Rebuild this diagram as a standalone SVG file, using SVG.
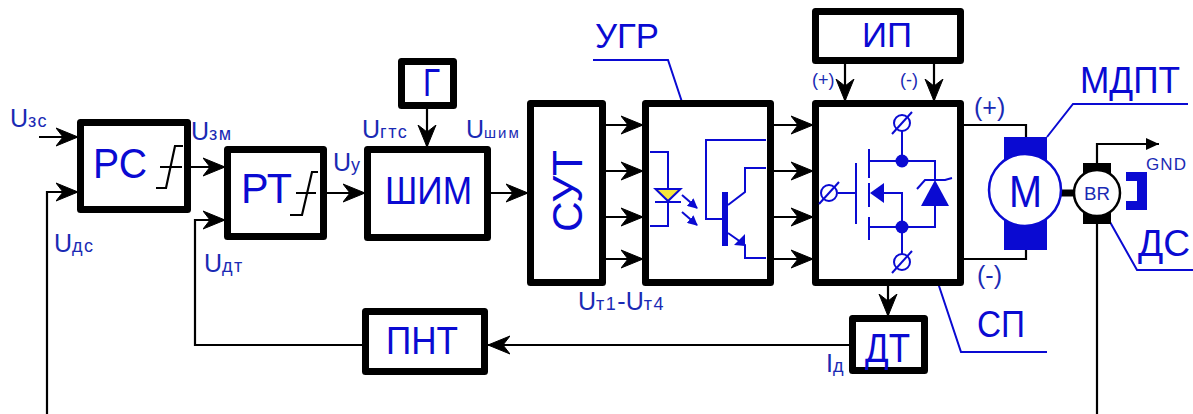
<svg xmlns="http://www.w3.org/2000/svg" width="1193" height="414" viewBox="0 0 1193 414">
<style>
text{font-family:"Liberation Sans",Arial,sans-serif}
.b{fill:#fff;stroke:#000;stroke-width:7;stroke-linejoin:round}
.c{fill:none;stroke:#000;stroke-width:2.200}
.a{marker-end:url(#ah)}
.t{fill:#0a0ad2;font-size:38px}
.s{fill:#1a2ab4;font-size:25px}
.s tspan{font-size:18px;letter-spacing:1.500px}
.p{fill:#1a2ab4}
.l{fill:none;stroke:#0a0ad2;stroke-width:2}
.e{fill:#0a0ad2;stroke:none}
.k{fill:none;stroke:#000;stroke-width:2.200}
</style>
<defs>
<marker id="ah" markerUnits="userSpaceOnUse" markerWidth="23" markerHeight="20" viewBox="0 0 23 20" refX="22" refY="10" orient="auto">
<path d="M0,1 L22,10 L0,19 L7,10 Z" fill="#000" stroke="#000" stroke-width="1"/>
</marker>
<marker id="ab" markerUnits="userSpaceOnUse" markerWidth="10" markerHeight="10" viewBox="0 0 10 10" refX="9" refY="5" orient="auto">
<path d="M0,0 L10,5 L0,10 Z" fill="#0a0ad2"/>
</marker>
<marker id="ag" markerUnits="userSpaceOnUse" markerWidth="14" markerHeight="14" viewBox="0 0 14 14" refX="13" refY="7" orient="auto">
<path d="M0,1 L13,7 L0,13 Z" fill="#000"/>
</marker>
<g id="term"><ellipse cx="0" cy="0" rx="8" ry="8" fill="none" stroke="#0a0ad2" stroke-width="2"/><path d="M-10,11 L10,-11" stroke="#0a0ad2" stroke-width="2"/></g>
</defs>
<rect width="1193" height="414" fill="#fff"/>
<g id="connectors">
<path class="c a" d="M39,137 H78"/>
<path class="c a" d="M47,414 V192 H78"/>
<path class="c a" d="M191,167 H225"/>
<path class="c a" d="M362,345 H195 V220 H225"/>
<path class="c a" d="M327,193 H365"/>
<path class="c a" d="M427,109 V147"/>
<path class="c a" d="M491,193 H528"/>
<path class="c a" d="M606,125 H643"/>
<path class="c a" d="M606,171 H643"/>
<path class="c a" d="M606,217 H643"/>
<path class="c a" d="M606,259 H643"/>
<path class="c a" d="M774,125 H813"/>
<path class="c a" d="M774,171 H813"/>
<path class="c a" d="M774,217 H813"/>
<path class="c a" d="M774,259 H813"/>
<path class="c a" d="M845,64 V101"/>
<path class="c a" d="M934,64 V101"/>
<path class="c a" d="M888,286 V316"/>
<path class="c a" d="M849,345 H488"/>
<path class="c" d="M964,125 H1026 V137"/>
<path class="c" d="M964,259 H1026 V250"/>
<path class="k" d="M1097,163 V144 H1159" marker-end="url(#ag)"/>
<path class="c" d="M1097,224 V414"/>
<path class="l" d="M593,60 H668 L683,105"/>
<path class="l" d="M938,283 L961,352 H1047"/>
<path class="l" d="M1047,137 L1073,104 H1188"/>
<path class="l" d="M1110,222 L1137,270 H1193"/>
</g>
<g id="node-rs">
<rect class="b" x="80.500" y="122.500" width="107" height="87"/>
<text class="t" x="93" y="178" style="font-size:42px" textLength="54" lengthAdjust="spacingAndGlyphs">РС</text>
<path class="k" d="M160,167 H182 M156,188 H166 L175,146 H183"/>
</g>
<g id="node-rt">
<rect class="b" x="227.500" y="149.500" width="96" height="87"/>
<text class="t" x="241" y="203" style="font-size:42px" textLength="51" lengthAdjust="spacingAndGlyphs">РТ</text>
<path class="k" d="M296,193 H316 M290,215 H302 L312,172 H318"/>
</g>
<g id="node-pwm">
<rect class="b" x="367.500" y="149.500" width="120" height="88"/>
<text class="t" x="385" y="204" textLength="87" lengthAdjust="spacingAndGlyphs">ШИМ</text>
</g>
<g id="node-g">
<rect class="b" x="401.500" y="61.500" width="52" height="44"/>
<text class="t" x="423" y="96" textLength="17" lengthAdjust="spacingAndGlyphs">Г</text>
</g>
<g id="node-sut">
<rect class="b" x="530.500" y="103.500" width="72" height="179"/>
<text class="t" transform="translate(582,232) rotate(-90)" style="font-size:43px" textLength="82" lengthAdjust="spacingAndGlyphs">СУТ</text>
</g>
<g id="node-ugr">
<rect class="b" x="645.500" y="103.500" width="125" height="179"/>
<path class="l" d="M650,152 H668 V226 H650"/>
<path d="M655.500,189 H680.500 L668,201 Z" fill="#f5e63c" stroke="#0a0ad2" stroke-width="2"/>
<path class="l" d="M655,202 H681"/>
<path class="l" d="M682,195 L697,208" marker-end="url(#ab)"/>
<path class="l" d="M682,212 L697,225" marker-end="url(#ab)"/>
<rect class="e" x="722" y="192" width="6" height="54"/>
<path class="l" d="M722,219 H706 V140 H766"/>
<path class="l" d="M728,205 L745,192 V168 H766"/>
<path class="l" d="M728,233 L745,245 V258 H766"/>
<path class="e" d="M734,245 L745,234 V246 Z"/>
<text class="t" x="595" y="48" style="font-size:35px" textLength="64" lengthAdjust="spacingAndGlyphs">УГР</text>
</g>
<g id="node-ip">
<rect class="b" x="815.500" y="11.500" width="145" height="49"/>
<text class="t" x="862" y="47" style="font-size:35px" textLength="50" lengthAdjust="spacingAndGlyphs">ИП</text>
</g>
<g id="node-sp">
<rect class="b" x="815.500" y="103.500" width="145" height="179"/>
<use href="#term" x="829" y="193"/>
<use href="#term" x="902" y="123"/>
<use href="#term" x="902" y="262"/>
<path class="l" d="M838,193 H856 M856,163 V224 M869,149 V178 M869,183 V207 M869,217 V240 M869,161 H935 V180 M869,227 H935 V206 M902,131 V161 M902,227 V254 M884,193 H902 V227"/>
<circle class="e" cx="902" cy="161" r="6.500"/>
<circle class="e" cx="902" cy="227" r="6.500"/>
<path class="e" d="M870,193 L884,183 V203 Z"/>
<path class="e" d="M921,206 H949 L935,180 Z"/>
<path class="l" d="M917,189 L925,180 H945 L952,178"/>
<text class="t" x="977" y="337" style="font-size:36px" textLength="48" lengthAdjust="spacingAndGlyphs">СП</text>
</g>
<g id="node-dt">
<rect class="b" x="852.500" y="318.500" width="72" height="52"/>
<text class="t" x="865" y="362" style="font-size:40px" textLength="45" lengthAdjust="spacingAndGlyphs">ДТ</text>
</g>
<g id="node-pnt">
<rect class="b" x="365.500" y="311.500" width="119" height="60"/>
<text class="t" x="386" y="354" textLength="72" lengthAdjust="spacingAndGlyphs">ПНТ</text>
</g>
<g id="node-motor">
<rect class="e" x="1004" y="137" width="43" height="113"/>
<path d="M1058,193 H1078" stroke="#000" stroke-width="7" stroke-linecap="round"/>
<circle cx="1025" cy="190" r="36" fill="#fff" stroke="#0a0ad2" stroke-width="2.500"/>
<text class="t" x="1009" y="207" style="font-size:44px" textLength="33" lengthAdjust="spacingAndGlyphs">М</text>
<text class="t" x="1080" y="93" style="font-size:37px" textLength="100" lengthAdjust="spacingAndGlyphs">МДПТ</text>
</g>
<g id="node-sensor">
<rect x="1083" y="163" width="28" height="61" fill="#000"/>
<circle cx="1097" cy="193" r="23" fill="#fff" stroke="#000" stroke-width="2.500"/>
<text class="p" x="1084" y="200" style="font-size:18px" textLength="26" lengthAdjust="spacingAndGlyphs">BR</text>
<path class="e" d="M1126,172 H1147 V210 H1126 V201 H1137 V181 H1126 Z"/>
<text class="t" x="1138" y="256" style="font-size:36px" textLength="52" lengthAdjust="spacingAndGlyphs">ДС</text>
<text class="p" x="1146" y="170" style="font-size:17px" textLength="40">GND</text>
</g>
<g id="labels">
<text class="s" x="10" y="127">U<tspan>зс</tspan></text>
<text class="s" x="191" y="140">U<tspan>зм</tspan></text>
<text class="s" x="54" y="252">U<tspan>дс</tspan></text>
<text class="s" x="204" y="272">U<tspan>дт</tspan></text>
<text class="s" x="333" y="171">U<tspan>у</tspan></text>
<text class="s" x="362" y="138">U<tspan>гтс</tspan></text>
<text class="s" x="466" y="138">U<tspan style="font-size:15px;letter-spacing:2px">шим</tspan></text>
<text class="s" x="578" y="310">U<tspan>т1</tspan>-U<tspan>т4</tspan></text>
<text class="s" x="826" y="372">I<tspan>д</tspan></text>
<text class="p" x="812" y="86" style="font-size:18px">(+)</text>
<text class="p" x="900" y="86" style="font-size:18px">(-)</text>
<text class="p" x="974" y="116" style="font-size:25px">(+)</text>
<text class="p" x="977" y="284" style="font-size:25px">(-)</text>
</g>
</svg>
